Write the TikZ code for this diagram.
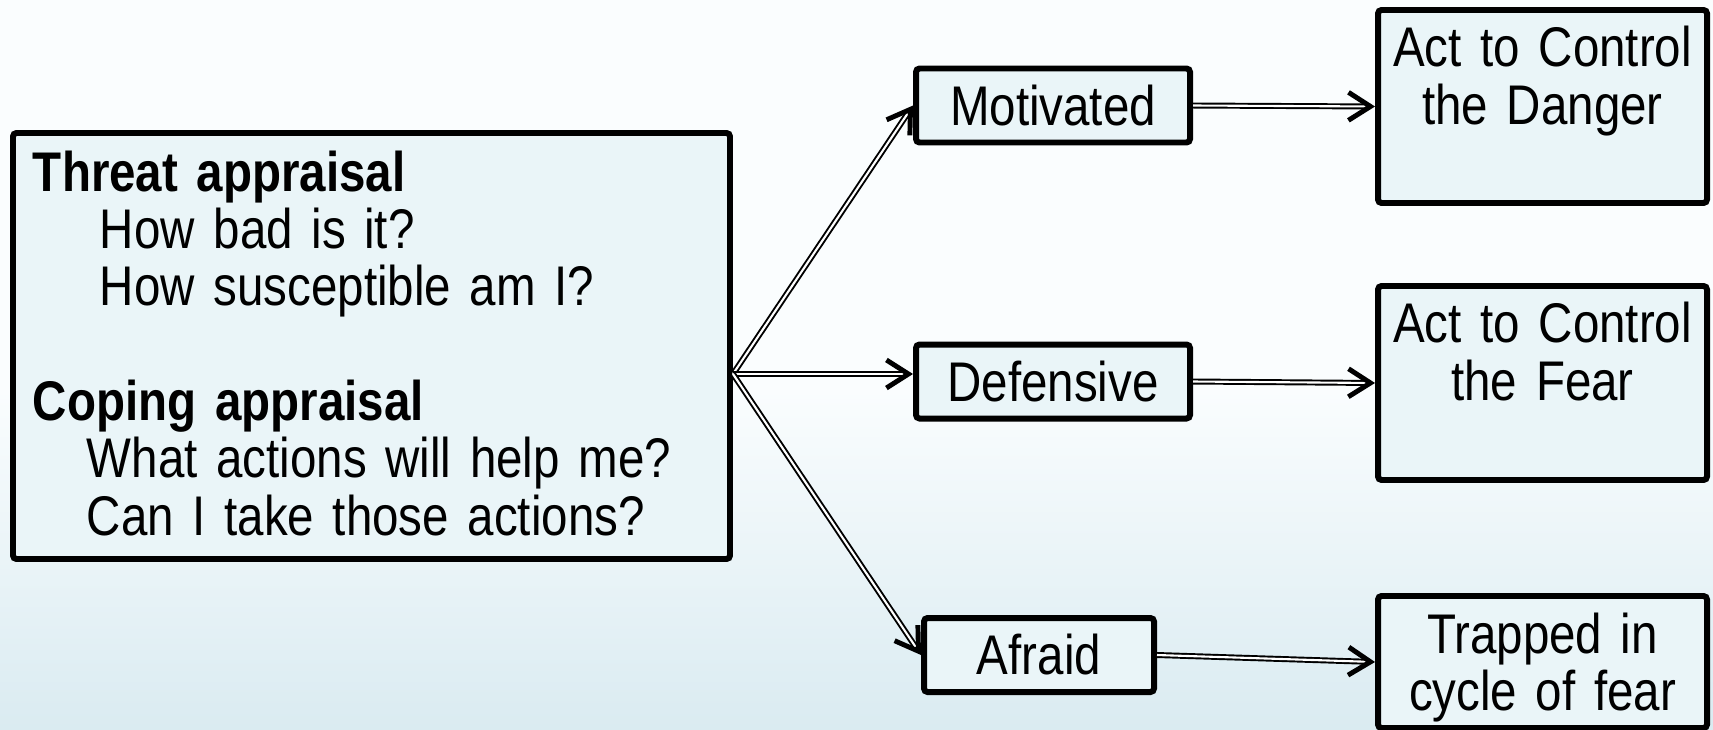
\documentclass[tikz,border=0pt]{standalone}
\usepackage{xcolor}
\usepackage{fontspec}
\setmainfont[FakeStretch=0.85, WordSpace=0.75]{Liberation Sans}
\usepackage{tikz}
\usetikzlibrary{arrows.meta}
\definecolor{bgtop}{RGB}{250, 253, 254}
\definecolor{bgbot}{RGB}{218, 235, 241}
\definecolor{boxfill}{RGB}{234, 245, 248}

\tikzset{
  appraisalbox/.style={draw, fill=boxfill, line width=1.7pt, rounded corners=1pt,
    align=left, text width=6.77cm, inner xsep=0.2cm, minimum height=4.26cm, anchor=north west},
  responsebox/.style={draw, fill=boxfill, line width=1.7pt, rounded corners=1pt,
    minimum height=0.74cm, inner sep=2pt},
  outcomebox/.style={draw, fill=boxfill, line width=1.7pt, rounded corners=1pt,
    align=center, text width=3.0cm, minimum width=3.29cm, inner xsep=0.1cm,
    inner ysep=0.15cm, text height=0.42cm, anchor=north},
  dblarrow/.style={double, double distance=0.6pt, line width=0.55pt,
    -{Straight Barb[length=2.2mm, width=2.8mm, line width=1.4pt]}}
}

\begin{document}
\begin{tikzpicture}[font=\fontsize{15.9}{16.3}\selectfont]
    \useasboundingbox (0,0) rectangle (17.13,7.29);
    \fill[bgtop] (0,0) rectangle (17.13,7.29);
    \shade[top color=bgtop, bottom color=bgbot] (0,0) rectangle (17.13,3.4);

    %% appraisal box
    \node[appraisalbox] (appraisal) at (0.10,5.99)
      {\textbf{Threat appraisal}\\
       \hspace*{0.67cm}How bad is it?\\
       \hspace*{0.67cm}How susceptible am I?\\[16.3pt]
       \textbf{Coping appraisal}\\
       \hspace*{0.54cm}What actions will help me?\\
       \hspace*{0.54cm}Can I take those actions?\rule[-0.06cm]{0pt}{0pt}};
    \coordinate (fork) at ([yshift=-0.28cm]appraisal.east);

    %% responses
    \node[responsebox, minimum width=2.74cm] (motivated) at (10.53,6.235) {Motivated};
    \node[responsebox, minimum width=2.74cm] (defensive) at (10.53,3.475) {Defensive};
    \node[responsebox, minimum width=2.30cm] (afraid) at (10.39,0.74) {Afraid};

    %% outcomes
    \node[outcomebox, text depth=1.21cm] (danger) at (15.425,7.22) {Act to Control\\the Danger};
    \node[outcomebox, text depth=1.22cm] (fear) at (15.425,4.46) {Act to Control\\the Fear};
    \node[outcomebox, text depth=0.60cm] (trapped) at (15.425,1.36) {Trapped in\\cycle of fear};

    %% arrows
    \draw[dblarrow] (fork) -- (motivated.west);
    \draw[dblarrow] (fork) -- (fork -| defensive.west);
    \draw[dblarrow] (fork) -- (afraid.west);
    \draw[dblarrow] (motivated.east) -- (danger.west);
    \draw[dblarrow] (defensive.east) -- (fear.west);
    \draw[dblarrow] (afraid.east) -- (trapped.west);
\end{tikzpicture}
\end{document}
